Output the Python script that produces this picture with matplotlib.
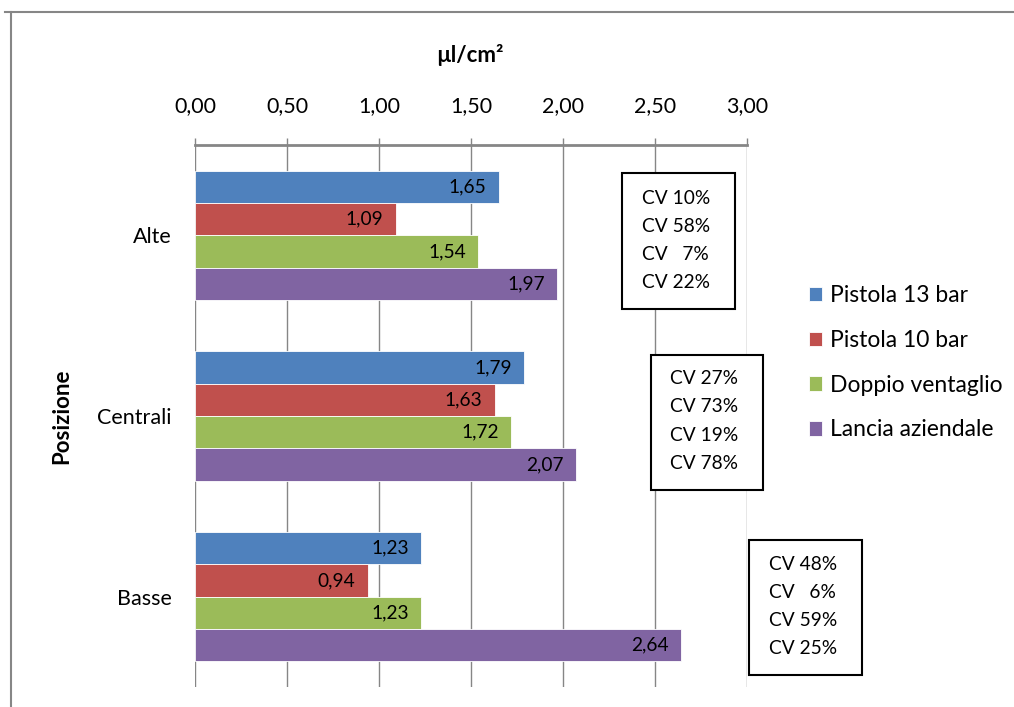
import numpy as np
import matplotlib
matplotlib.use('Agg')
import matplotlib.pyplot as plt
from matplotlib.patches import Rectangle
from matplotlib.lines import Line2D

plt.rcParams['font.family'] = ['Lato', 'DejaVu Sans']

# Data
categories = ['Alte', 'Centrali', 'Basse']
series_names = ['Pistola 13 bar', 'Pistola 10 bar', 'Doppio ventaglio', 'Lancia aziendale']
values = [
    [1.65, 1.79, 1.23],   # Pistola 13 bar
    [1.09, 1.63, 0.94],   # Pistola 10 bar
    [1.54, 1.72, 1.23],   # Doppio ventaglio
    [1.97, 2.07, 2.64],   # Lancia aziendale
]
cv_values = [
    [10, 58, 7, 22],      # Alte
    [27, 73, 19, 78],     # Centrali
    [48, 6, 59, 25],      # Basse
]
x_ticks = [0.0, 0.5, 1.0, 1.5, 2.0, 2.5, 3.0]

colors = ['#4F81BD', '#C0504D', '#9BBB59', '#8064A2']
grid_col = '#868686'

W, H = 1014, 707
fig = plt.figure(figsize=(W / 100, H / 100), dpi=100)
ax = fig.add_axes([195 / W, 1 - 687 / H, 552 / W, 542 / H])

y = np.arange(len(categories))
h = 0.179
for i, (name, vals) in enumerate(zip(series_names, values)):
    pos = y + (i - 1.5) * h
    ax.barh(pos, vals, height=h, color=colors[i], edgecolor='white',
            linewidth=0.6, label=name, zorder=3)
    for p, v in zip(pos, vals):
        ax.annotate('{:.2f}'.format(v).replace('.', ','), xy=(v, p),
                    xytext=(-9, 0), textcoords='offset points',
                    ha='right', va='center', fontsize=13.8, zorder=4)

ax.set_xlim(0, 3.0)
ax.set_ylim(len(categories) - 0.5, -0.5)
ax.set_xticks(x_ticks)
ax.set_xticklabels(['{:.2f}'.format(t).replace('.', ',') for t in x_ticks], fontsize=15.5)
ax.xaxis.tick_top()
ax.tick_params(axis='x', direction='out', length=5, width=1, color=grid_col, pad=16)
ax.set_yticks(y)
ax.set_yticklabels(categories, fontsize=15.5)
ax.tick_params(axis='y', length=0, pad=17)

ax.grid(axis='x', color=grid_col, linewidth=1, zorder=0)
for s in ['left', 'right', 'bottom']:
    ax.spines[s].set_visible(False)
ax.spines['top'].set_color(grid_col)
ax.spines['top'].set_linewidth(2)

ax.set_xlabel('µl/cm²', fontsize=16, fontweight='bold')
ax.xaxis.set_label_position('top')
ax.xaxis.set_label_coords(0.498, 1.153)
ax.set_ylabel('Posizione', fontsize=16, fontweight='bold')
ax.yaxis.set_label_coords(-0.222, 0.5)


# CV boxes (pixel layout: left, top, right, bottom, text x, first line y)
def px_to_data(px, py):
    return (px - 195) / 184.0, (py - 145) / 180.0 - 0.5


boxes = [(622, 173, 735, 308, 642, 198),
         (651, 354, 763, 489, 670, 378),
         (749, 539, 862, 673, 769, 563)]
for cvs, (l, t, r, b, tx, ty) in zip(cv_values, boxes):
    x0, y0 = px_to_data(l, t)
    x1, y1 = px_to_data(r, b)
    ax.add_patch(Rectangle((x0, y0), x1 - x0, y1 - y0, facecolor='white',
                           edgecolor='black', linewidth=1.5, clip_on=False, zorder=5))
    for k, cv in enumerate(cvs):
        txt = 'CV {}%'.format(cv) if cv >= 10 else 'CV   {}%'.format(cv)
        xx, yy = px_to_data(tx, ty + k * 28)
        ax.text(xx, yy, txt, ha='left', va='center', fontsize=13.8, zorder=6, clip_on=False)

# Legend
fig.legend(loc='upper left', bbox_to_anchor=(809 / W, 1 - 285 / H), frameon=False,
           fontsize=16.5, handlelength=0.58, handleheight=0.58, handletextpad=0.35,
           labelspacing=1.04, borderpad=0, borderaxespad=0)

# Chart border
fig.add_artist(Line2D([5 / W, 1], [1 - 12 / H, 1 - 12 / H], color=grid_col, linewidth=1.5))
fig.add_artist(Line2D([11 / W, 11 / W], [1 - 12 / H, 0], color=grid_col, linewidth=1.5))

fig.savefig('out.png', dpi=100)
